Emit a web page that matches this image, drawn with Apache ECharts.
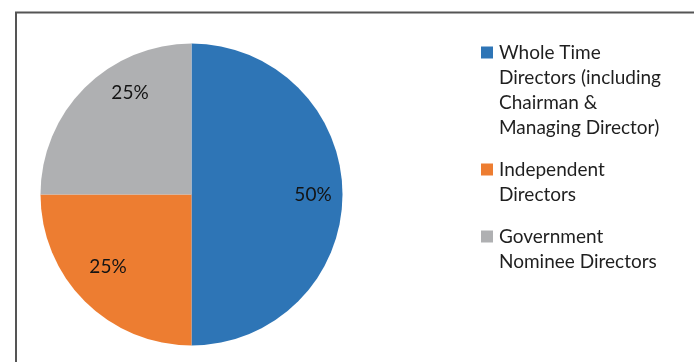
<!DOCTYPE html>
<html>
<head>
<meta charset="utf-8">
<script src="https://cdn.jsdelivr.net/npm/echarts@6/dist/echarts.min.js"></script>
<style>
  html, body { margin: 0; padding: 0; background: #fff; }
  #chart { width: 694px; height: 362px; }
</style>
</head>
<body>
<div id="chart"></div>
<script>
// board composition
const categories = [
  'Whole Time Directors (including Chairman & Managing Director)',
  'Independent Directors',
  'Government Nominee Directors'
]
const shares = [50, 25, 25]
// how the legend text wraps in the picture
const legendLines = [
  ['Whole Time', 'Directors (including', 'Chairman &', 'Managing Director)'],
  ['Independent', 'Directors'],
  ['Government', 'Nominee Directors']
]

const colors = ['#2e75b6', '#ed7d31', '#afb0b2']
// nudge the % labels away from the mid-angle spot, like Excel's best fit
const labelShift = [[43, 0], [-28, 17], [-6, -46]]

const myChart = echarts.init(document.getElementById('chart'), null, { renderer: 'canvas' })

const rich = { sp: { width: 18, height: 12 }, g: { width: 6, height: 12 } }
colors.forEach((c, i) => {
  rich['sq' + i] = { width: 12, height: 12, backgroundColor: c }
})

const option = {
  backgroundColor: '#fff',
  animation: false,
  color: colors,
  graphic: [{
    type: 'rect',
    silent: true,
    shape: { x: 16, y: 12.5, width: 760, height: 420 },
    style: { fill: 'none', stroke: '#555', lineWidth: 2 }
  }],
  legend: {
    orient: 'vertical',
    left: 476,
    top: 40,
    padding: 0,
    itemGap: 17,
    itemWidth: 0,
    itemHeight: 12,
    icon: 'none',
    selectedMode: false,
    data: categories,
    formatter: (name) => {
      const i = categories.indexOf(name)
      return legendLines[i]
        .map((t, k) => (k === 0 ? '{sq' + i + '|}{g|}' : '{sp|}') + t)
        .join('\n')
    },
    textStyle: {
      fontFamily: 'Lato',
      fontSize: 19,
      lineHeight: 25,
      color: '#1f1f1f',
      rich: rich
    }
  },
  series: [{
    name: 'Board',
    type: 'pie',
    center: [191.5, 194.5],
    radius: 151,
    startAngle: 90,
    clockwise: true,
    avoidLabelOverlap: false,
    itemStyle: { borderWidth: 0 },
    emphasis: { scale: false },
    label: {
      show: true,
      position: 'inside',
      formatter: (p) => p.value + '%',
      fontFamily: 'Lato',
      fontSize: 19,
      color: '#141414'
    },
    labelLine: { show: false },
    labelLayout: (params) => ({
      dx: labelShift[params.dataIndex][0],
      dy: labelShift[params.dataIndex][1]
    }),
    data: categories.map((name, i) => ({ name, value: shares[i] }))
  }]
}

myChart.setOption(option)
window.addEventListener('resize', () => myChart.resize())
</script>
</body>
</html>
